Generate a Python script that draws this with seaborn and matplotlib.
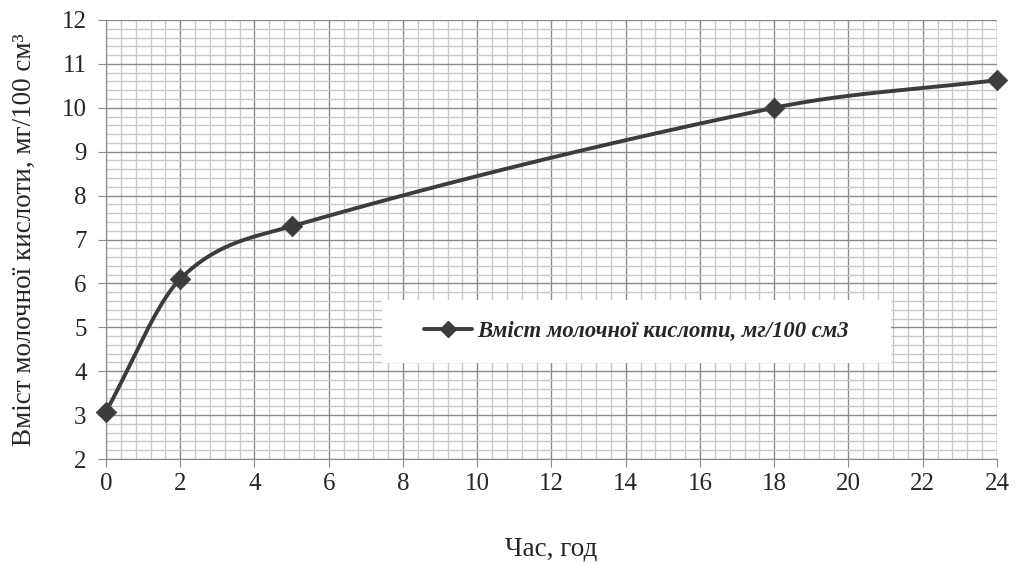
import numpy as np
import pandas as pd
import matplotlib
matplotlib.use("Agg")
import matplotlib.pyplot as plt
import seaborn as sns
from matplotlib.ticker import MultipleLocator
from matplotlib.lines import Line2D
from matplotlib.patches import Rectangle

hours = [0, 2, 5, 18, 24]
lactic = [3.08, 6.1, 7.3, 10.0, 10.63]
series_name = "Вміст молочної кислоти, мг/100 см3"
xlabel = "Час, год"
ylabel = "Вміст молочної кислоти, мг/100 см³"

sns.set_style("white")
plt.rcParams['font.family'] = ['Liberation Serif', 'DejaVu Serif']


def smooth(xs, ys, n=80):
    x = np.asarray(xs, float)
    y = np.asarray(ys, float)
    m = len(x)
    slopes = np.empty(m)
    slopes[0] = (y[1] - y[0]) / (x[1] - x[0])
    slopes[-1] = (y[-1] - y[-2]) / (x[-1] - x[-2])
    for i in range(1, m - 1):
        slopes[i] = (y[i + 1] - y[i - 1]) / (x[i + 1] - x[i - 1])
    ox, oy = [], []
    for i in range(m - 1):
        h = x[i + 1] - x[i]
        t = np.linspace(0, 1, n)
        h00 = 2 * t**3 - 3 * t**2 + 1
        h10 = t**3 - 2 * t**2 + t
        h01 = -2 * t**3 + 3 * t**2
        h11 = t**3 - t**2
        yy = h00 * y[i] + h10 * h * slopes[i] + h01 * y[i + 1] + h11 * h * slopes[i + 1]
        xx = x[i] + t * h
        if i > 0:
            xx, yy = xx[1:], yy[1:]
        ox.append(xx)
        oy.append(yy)
    return np.concatenate(ox), np.concatenate(oy)


sx, sy = smooth(hours, lactic)
df_curve = pd.DataFrame({"x": sx, "y": sy})
df_pts = pd.DataFrame({"x": hours, "y": lactic})

fig = plt.figure(figsize=(10.17, 5.63), dpi=100)
ax = fig.add_axes([0.1042, 0.1847, 0.8761, 0.7798])

col = "#3c3c3c"
sns.lineplot(data=df_curve, x="x", y="y", ax=ax, color=col, linewidth=2.8, sort=False, zorder=3)
sns.scatterplot(data=df_pts, x="x", y="y", ax=ax, color=col, marker="D", s=110, edgecolor=col,
                linewidth=0.5, zorder=4, clip_on=False)

ax.set_xlim(0, 24)
ax.set_ylim(2, 12)
ax.xaxis.set_major_locator(MultipleLocator(2))
ax.xaxis.set_minor_locator(MultipleLocator(0.4))
ax.yaxis.set_major_locator(MultipleLocator(1))
ax.yaxis.set_minor_locator(MultipleLocator(0.2))
ax.grid(which="minor", color="#c8c8c8", linewidth=1.0, zorder=0)
ax.grid(which="major", color="#8a8a8a", linewidth=1.0, zorder=1)
ax.set_axisbelow(True)
for s in ax.spines.values():
    s.set_visible(False)
ax.spines['left'].set_visible(True)
ax.spines['bottom'].set_visible(True)
ax.spines['left'].set_color("#8a8a8a")
ax.spines['bottom'].set_color("#8a8a8a")
ax.tick_params(which="major", direction="out", length=6, color="#8a8a8a", labelsize=18,
               pad=8, left=True, bottom=True)
ax.tick_params(axis="x", which="major", pad=4)
ax.tick_params(which="minor", length=0)
ax.set_xlabel(xlabel, fontsize=19.5)
ax.set_ylabel(ylabel, fontsize=19.5)
ax.xaxis.set_label_coords(0.5, -0.176)
ax.yaxis.set_label_coords(-0.077, 0.5)

# white legend panel
ax.add_patch(Rectangle((0.31, 0.219), 0.571, 0.143, transform=ax.transAxes,
                       facecolor="white", edgecolor="none", zorder=5))
h = Line2D([0], [0], color=col, linewidth=2.8, marker="D", markersize=8)
leg = ax.legend([h], [series_name], loc="center", bbox_to_anchor=(0.5954, 0.29),
                frameon=False,
                prop={"family": "Liberation Serif", "weight": "bold", "style": "italic", "size": 16.3},
                handlelength=2.1, handletextpad=0.25, borderpad=0)
leg.set_zorder(6)

fig.savefig("out.png", dpi=100)
